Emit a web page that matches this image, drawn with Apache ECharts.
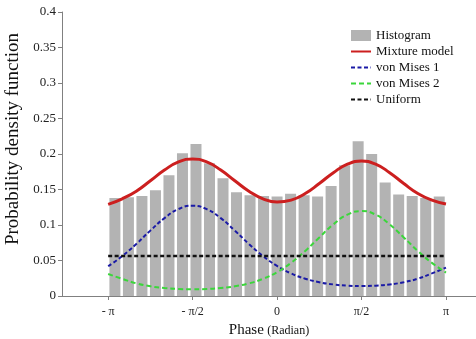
<!DOCTYPE html>
<html><head><meta charset="utf-8">
<script src="https://cdn.jsdelivr.net/npm/echarts@6/dist/echarts.min.js"></script>
<style>html,body{margin:0;padding:0;background:#fff}#c{width:476px;height:339px}</style>
</head><body><div id="c"></div>
<script>
// Histogram: 25 bins over [-pi, pi]; bin centers (radian)
const binCenters = [-3.0159, -2.7646, -2.5133, -2.2619, -2.0106, -1.7593, -1.5080, -1.2566, -1.0053, -0.7540, -0.5027, -0.2513, 0,
  0.2513, 0.5027, 0.7540, 1.0053, 1.2566, 1.5080, 1.7593, 2.0106, 2.2619, 2.5133, 2.7646, 3.0159];
const histogram = [0.138, 0.139, 0.141, 0.149, 0.170, 0.201, 0.214, 0.187, 0.166, 0.146, 0.142, 0.141, 0.140,
  0.144, 0.142, 0.140, 0.155, 0.184, 0.218, 0.200, 0.160, 0.143, 0.141, 0.138, 0.140];
// Curve sample positions in units of pi/12
const curvePhase = [-12, -11, -10, -9, -8, -7, -6, -5, -4, -3, -2, -1, 0, 1, 2, 3, 4, 5, 6, 7, 8, 9, 10, 11, 12];
const mixture = [0.129, 0.1369, 0.1476, 0.1623, 0.1774, 0.1888, 0.1930, 0.1888, 0.1774, 0.1623, 0.1476, 0.1369, 0.1324,
  0.1350, 0.1443, 0.1584, 0.1737, 0.1857, 0.1902, 0.1857, 0.1737, 0.1584, 0.1443, 0.1350, 0.1295];
const vonMises1 = [0.042, 0.0562, 0.0733, 0.0921, 0.1097, 0.1224, 0.1271, 0.1224, 0.1097, 0.0921, 0.0733, 0.0562, 0.0423,
  0.0318, 0.0244, 0.0194, 0.0163, 0.0146, 0.0141, 0.0146, 0.0163, 0.0194, 0.0244, 0.0318, 0.040];
const vonMises2 = [0.031, 0.0242, 0.0178, 0.0137, 0.0112, 0.0099, 0.0094, 0.0099, 0.0112, 0.0137, 0.0178, 0.0242, 0.0336,
  0.0467, 0.0634, 0.0825, 0.1009, 0.1146, 0.1196, 0.1146, 0.1009, 0.0825, 0.0634, 0.0467, 0.033];
const uniformPhase = [-12, 12];
const uniform = [0.0565, 0.0565];
const xTickPos = [-12, -6, 0, 6, 12]; // units of pi/12
const xTickLabels = ['- π', '- π/2', '0', 'π/2', 'π'];

const P = Math.PI / 12;
const serif = 'Liberation Serif';
const xTickValues = xTickPos.map(k => k * P);
const pts = (xs, ys) => xs.map((k, i) => [k * P, ys[i]]);
const noSym = { opacity: 0 };

const chart = echarts.init(document.getElementById('c'));
chart.setOption({
  animation: false,
  backgroundColor: '#fff',
  grid: { left: 62, right: 0, top: 12, bottom: 43, containLabel: false, outerBoundsMode: 'none' },
  legend: {
    orient: 'vertical', left: 345, top: 24,
    itemWidth: 20, itemHeight: 11, itemGap: 3,
    textStyle: { fontFamily: serif, fontSize: 13, color: '#111' },
    data: [
      { name: 'Histogram', icon: 'rect' },
      { name: 'Mixture model', itemStyle: noSym },
      { name: 'von Mises 1', itemStyle: noSym },
      { name: 'von Mises 2', itemStyle: noSym },
      { name: 'Uniform', itemStyle: noSym }
    ]
  },
  xAxis: {
    type: 'value', min: -4, max: 3.7,
    splitLine: { show: false },
    axisLine: { onZero: false, lineStyle: { color: '#808080', width: 1 } },
    axisTick: { customValues: xTickValues, length: 4, lineStyle: { color: '#808080' } },
    axisLabel: {
      customValues: xTickValues, margin: 10,
      fontFamily: serif, fontSize: 12, color: '#222',
      formatter: v => {
        let best = 0;
        xTickValues.forEach((t, i) => { if (Math.abs(t - v) < Math.abs(xTickValues[best] - v)) best = i; });
        return xTickLabels[best];
      }
    },
    name: '{a|Phase} {b|(Radian)}', nameLocation: 'middle', nameGap: 26,
    nameTextStyle: { rich: { a: { fontFamily: serif, fontSize: 15, color: '#111' }, b: { fontFamily: serif, fontSize: 12, color: '#111' } } }
  },
  yAxis: {
    type: 'value', min: 0, max: 0.4, interval: 0.05,
    splitLine: { show: false },
    axisLine: { show: true, onZero: false, lineStyle: { color: '#808080', width: 1 } },
    axisTick: { show: true, length: 4, lineStyle: { color: '#808080' } },
    axisLabel: { margin: 6, fontFamily: serif, fontSize: 13, color: '#222' },
    name: 'Probability density function', nameLocation: 'middle', nameGap: 37,
    nameTextStyle: { fontFamily: serif, fontSize: 19, color: '#111', padding: [0, 0, 0, 30] }
  },
  series: [
    { name: 'Histogram', type: 'bar', barWidth: 11, data: pts(binCenters.map(c => c / P), histogram),
      itemStyle: { color: '#b3b3b3' }, z: 1 },
    { name: 'Mixture model', type: 'line', smooth: true, symbol: 'none', data: pts(curvePhase, mixture),
      lineStyle: { color: '#cc1f1f', width: 3 }, itemStyle: { color: '#cc1f1f' }, z: 5 },
    { name: 'von Mises 1', type: 'line', smooth: true, symbol: 'none', data: pts(curvePhase, vonMises1),
      lineStyle: { color: '#1a1aa6', width: 2, type: [4, 2.5] }, itemStyle: { color: '#1a1aa6' }, z: 4 },
    { name: 'von Mises 2', type: 'line', smooth: true, symbol: 'none', data: pts(curvePhase, vonMises2),
      lineStyle: { color: '#3bd63b', width: 2, type: [5, 3] }, itemStyle: { color: '#3bd63b' }, z: 4 },
    { name: 'Uniform', type: 'line', symbol: 'none', data: pts(uniformPhase, uniform),
      lineStyle: { color: '#111', width: 2.5, type: [4, 2.5] }, itemStyle: { color: '#111' }, z: 4 }
  ]
});
</script>
</body></html>
